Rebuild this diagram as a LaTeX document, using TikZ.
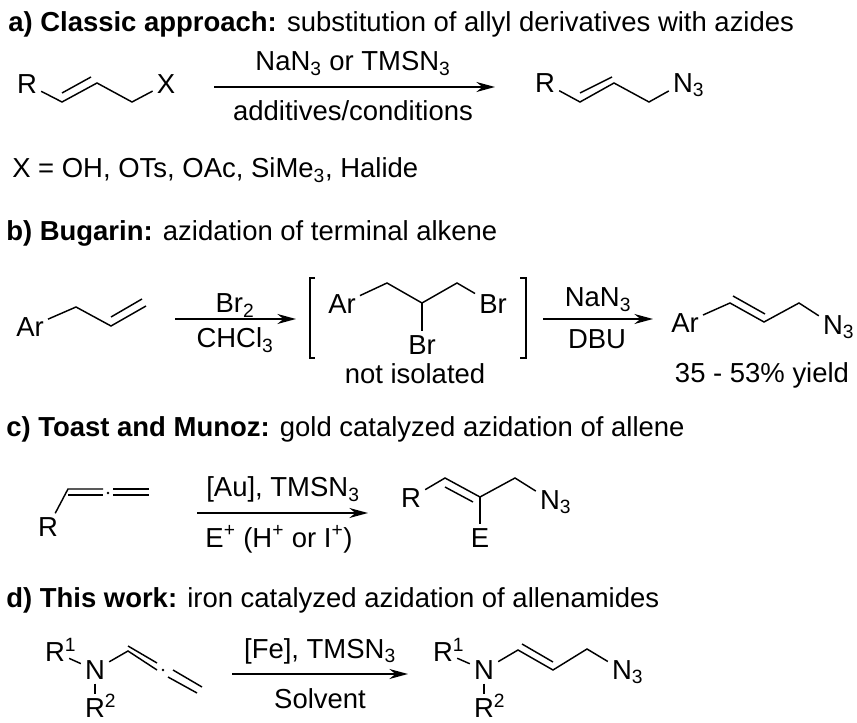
\documentclass[tikz,border=0pt]{standalone}
\usepackage{fontspec}
\setmainfont{Liberation Sans}
\usetikzlibrary{arrows.meta}
\newcommand{\Nthree}{N\rlap{\smash{\textsubscript{3}}}}
\newcommand{\Rone}{R\rlap{\smash{\textsuperscript{1}}}}
\newcommand{\Rtwo}{R\rlap{\smash{\textsuperscript{2}}}}
\tikzset{
  atom/.style={inner sep=3pt, font=\fontsize{20.6}{24}\selectfont},
  txt/.style={inner sep=0pt, anchor=base, font=\fontsize{20.6}{24}\selectfont},
  head/.style={inner sep=0pt, anchor=base west, font=\fontsize{20.6}{24}\selectfont},
  bond/.style={line width=1.1pt, line join=miter},
  rxn/.style={line width=1.2pt, -{Stealth[length=14pt, width=7.5pt]}},
  brack/.style={line width=1.2pt}
}
\begin{document}
\begin{tikzpicture}[x=0.75pt, y=-0.75pt]
\useasboundingbox (0,0) rectangle (857,723);

\node [head] (ta) at (8,32) {\textbf{a) Classic approach:} substitution of allyl derivatives with azides};
\node [atom] (a1) at (27,84) {R};
\coordinate (a2) at (62,102);
\coordinate (a3) at (97,83);
\coordinate (a4) at (132,102);
\node [atom] (a5) at (166,84) {X};
\coordinate (a6) at (62,93);
\coordinate (a7) at (91,77);
\draw [bond] (a1) -- (a2) -- (a3) -- (a4) -- (a5);
\draw [bond] (a6) -- (a7);
\coordinate (ar1) at (214,87);
\coordinate (ar2) at (495,87);
\draw [rxn] (ar1) -- (ar2);
\node [txt] (ar3) at (353,71) {NaN\textsubscript{3} or TMSN\textsubscript{3}};
\node [txt] (ar4) at (353,121) {additives/conditions};
\node [atom] (p1) at (545,83) {R};
\coordinate (p2) at (580,102);
\coordinate (p3) at (614,83);
\coordinate (p4) at (649,102);
\node [atom] (p5) at (683,83) {\Nthree};
\coordinate (p6) at (580,93);
\coordinate (p7) at (612,77);
\draw [bond] (p1) -- (p2) -- (p3) -- (p4) -- (p5);
\draw [bond] (p6) -- (p7);
\node [head] (ax) at (12,178) {X = OH, OTs, OAc, SiMe\textsubscript{3}, Halide};

\node [head] (tb) at (6,241) {\textbf{b) Bugarin:} azidation of terminal alkene};
\node [atom] (b1) at (30,327) {Ar};
\coordinate (b2) at (76,307);
\coordinate (b3) at (111,326);
\coordinate (b4) at (146,306);
\coordinate (b5) at (111,317);
\coordinate (b6) at (142,299);
\draw [bond] (b1) -- (b2) -- (b3) -- (b4);
\draw [bond] (b5) -- (b6);
\coordinate (br1) at (175,319);
\coordinate (br2) at (296,319);
\draw [rxn] (br1) -- (br2);
\node [txt] (br3) at (235,313) {Br\textsubscript{2}};
\node [txt] (br4) at (235,348) {CHCl\textsubscript{3}};
\coordinate (l1) at (315,278);
\coordinate (l2) at (310,278);
\coordinate (l3) at (310,358);
\coordinate (l4) at (315,358);
\draw [brack] (l1) -- (l2) -- (l3) -- (l4);
\node [atom] (i1) at (342,304) {Ar};
\coordinate (i2) at (387,283);
\coordinate (i3) at (422,303);
\coordinate (i4) at (457,283);
\node [atom] (i5) at (493,304) {Br};
\node [atom] (i6) at (422,345) {Br};
\draw [bond] (i1) -- (i2) -- (i3) -- (i4) -- (i5);
\draw [bond] (i3) -- (i6);
\coordinate (r1) at (520,278);
\coordinate (r2) at (526,278);
\coordinate (r3) at (526,358);
\coordinate (r4) at (520,358);
\draw [brack] (r1) -- (r2) -- (r3) -- (r4);
\node [txt] (iso) at (415,384) {not isolated};
\coordinate (bs1) at (543,319);
\coordinate (bs2) at (653,319);
\draw [rxn] (bs1) -- (bs2);
\node [txt] (bs3) at (598,307) {NaN\textsubscript{3}};
\node [txt] (bs4) at (597,349) {DBU};
\node [atom] (q1) at (685,323) {Ar};
\coordinate (q2) at (730,303);
\coordinate (q3) at (764,322);
\coordinate (q4) at (799,303);
\node [atom] (q5) at (833,325) {\Nthree};
\coordinate (q6) at (733,296);
\coordinate (q7) at (765,314);
\draw [bond] (q1) -- (q2) -- (q3) -- (q4) -- (q5);
\draw [bond] (q6) -- (q7);
\node [txt] (yld) at (762,383) {35 - 53\% yield};

\node [head] (tc) at (6,436) {\textbf{c) Toast and Munoz:} gold catalyzed azidation of allene};
\node [atom] (c1) at (48,527) {R};
\coordinate (c2) at (68,489);
\coordinate (c3) at (103,489);
\coordinate (c4) at (68,495);
\coordinate (c5) at (103,495);
\coordinate (c6) at (113,489);
\coordinate (c7) at (149,489);
\coordinate (c8) at (113,495);
\coordinate (c9) at (149,495);
\node [circle, fill, inner sep=0.7pt] (c10) at (108,493) {};
\draw [bond] (c1) -- (c2) -- (c3);
\draw [bond] (c4) -- (c5);
\draw [bond] (c6) -- (c7);
\draw [bond] (c8) -- (c9);
\coordinate (cr1) at (197,513);
\coordinate (cr2) at (368,513);
\draw [rxn] (cr1) -- (cr2);
\node [txt] (cr3) at (283,497) {[Au], TMSN\textsubscript{3}};
\node [txt] (cr4) at (279,547) {E\textsuperscript{+} (H\textsuperscript{+} or I\textsuperscript{+})};
\node [atom] (s1) at (411,498) {R};
\coordinate (s2) at (445,478);
\coordinate (s3) at (480,497);
\coordinate (s4) at (515,478);
\node [atom] (s5) at (550,500) {\Nthree};
\coordinate (s6) at (445,487);
\coordinate (s7) at (473,502);
\node [atom] (s8) at (480,538) {E};
\draw [bond] (s1) -- (s2) -- (s3) -- (s4) -- (s5);
\draw [bond] (s6) -- (s7);
\draw [bond] (s3) -- (s8);

\node [head] (td) at (6,607) {\textbf{d) This work:} iron catalyzed azidation of allenamides};
\node [atom] (d1) at (55,652) {\Rone};
\node [atom] (d2) at (95,670) {N};
\node [atom] (d3) at (95,708) {\Rtwo};
\coordinate (d4) at (128,651);
\coordinate (d5) at (157,670);
\coordinate (d6) at (128,646);
\coordinate (d7) at (157,663);
\node [circle, fill, inner sep=0.7pt] (d8) at (163,670) {};
\coordinate (d9) at (173,670);
\coordinate (d10) at (202,687);
\coordinate (d11) at (168,677);
\coordinate (d12) at (197,693);
\draw [bond] (d1) -- (d2);
\draw [bond] (d2) -- (d3);
\draw [bond] (d2) -- (d4) -- (d5);
\draw [bond] (d6) -- (d7);
\draw [bond] (d9) -- (d10);
\draw [bond] (d11) -- (d12);
\coordinate (dr1) at (232,674);
\coordinate (dr2) at (408,674);
\draw [rxn] (dr1) -- (dr2);
\node [txt] (dr3) at (320,658) {[Fe], TMSN\textsubscript{3}};
\node [txt] (dr4) at (320,708) {Solvent};
\node [atom] (t1) at (443,652) {\Rone};
\node [atom] (t2) at (484,670) {N};
\node [atom] (t3) at (484,708) {\Rtwo};
\coordinate (t4) at (518,650);
\coordinate (t5) at (553,670);
\coordinate (t6) at (587,649);
\node [atom] (t7) at (622,670) {\Nthree};
\coordinate (t8) at (522,644);
\coordinate (t9) at (553,662);
\draw [bond] (t1) -- (t2);
\draw [bond] (t2) -- (t3);
\draw [bond] (t2) -- (t4) -- (t5) -- (t6) -- (t7);
\draw [bond] (t8) -- (t9);
\end{tikzpicture}
\end{document}
